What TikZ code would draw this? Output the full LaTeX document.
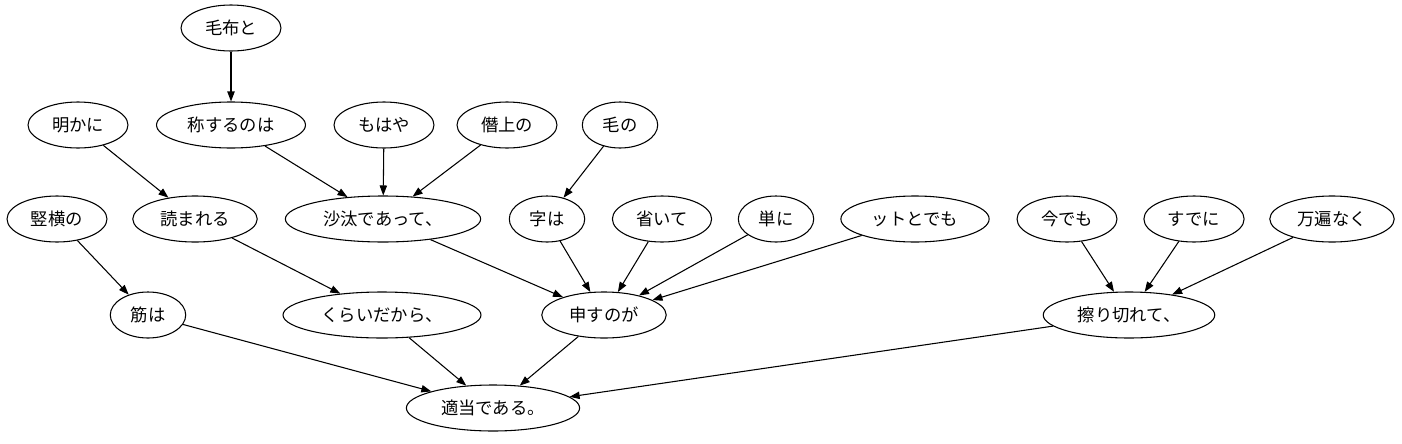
\documentclass[tikz,border=0pt]{standalone}
\usepackage{fontspec}
\setmainfont{Noto Sans CJK JP}
\usetikzlibrary{shapes.geometric,arrows.meta}

\begin{document}
\begin{tikzpicture}[x=0.75pt, y=-0.75pt, >={Triangle[length=7.5pt,width=5.5pt]}]
		\useasboundingbox (0,0) rectangle (1402,443);
		\begin{scope}[scale=1]
		\tikzstyle{every node}=[draw, ellipse, line width=0.8pt, align=center, inner xsep=7pt, inner ysep=2pt, minimum height=34.5pt, font=\fontsize{13}{15}\selectfont]
				\node (MF) at (231, 28) {毛布と};
				\node (AK) at (78, 125) {明かに};
				\node (SS) at (231, 125) {称するのは};
				\node (MH) at (384, 125) {もはや};
				\node (SJ) at (507, 125) {僭上の};
				\node (KN) at (620, 125) {毛の};
				\node (TY) at (57, 219) {竪横の};
				\node (YM) at (195, 219) {読まれる};
				\node (ST) at (383, 219) {沙汰であって、};
				\node (JH) at (547, 219) {字は};
				\node (HB) at (662, 219) {省いて};
				\node (TN) at (776, 219) {単に};
				\node (TD) at (915, 219) {ットとでも};
				\node (IM) at (1067, 219) {今でも};
				\node (SD) at (1194, 219) {すでに};
				\node (MB) at (1332, 219) {万遍なく};
				\node (SW) at (148, 315) {筋は};
				\node (KR) at (382, 315) {くらいだから、};
				\node (MN) at (604, 315) {申すのが};
				\node (SK) at (1129, 315) {擦り切れて、};
				\node (TT) at (493, 408) {適当である。};

				\draw[->, line width=0.8pt]  (MF) -- (SS);
				\draw[->, line width=0.8pt]  (AK) -- (YM);
				\draw[->, line width=0.8pt]  (SS) -- (ST);
				\draw[->, line width=0.8pt]  (MH) -- (ST);
				\draw[->, line width=0.8pt]  (SJ) -- (ST);
				\draw[->, line width=0.8pt]  (KN) -- (JH);
				\draw[->, line width=0.8pt]  (TY) -- (SW);
				\draw[->, line width=0.8pt]  (YM) -- (KR);
				\draw[->, line width=0.8pt]  (ST) -- (MN);
				\draw[->, line width=0.8pt]  (JH) -- (MN);
				\draw[->, line width=0.8pt]  (HB) -- (MN);
				\draw[->, line width=0.8pt]  (TN) -- (MN);
				\draw[->, line width=0.8pt]  (TD) -- (MN);
				\draw[->, line width=0.8pt]  (IM) -- (SK);
				\draw[->, line width=0.8pt]  (SD) -- (SK);
				\draw[->, line width=0.8pt]  (MB) -- (SK);
				\draw[->, line width=0.8pt]  (SW) -- (TT);
				\draw[->, line width=0.8pt]  (KR) -- (TT);
				\draw[->, line width=0.8pt]  (MN) -- (TT);
				\draw[->, line width=0.8pt]  (SK) -- (TT);
		\end{scope}
\end{tikzpicture}
\end{document}
